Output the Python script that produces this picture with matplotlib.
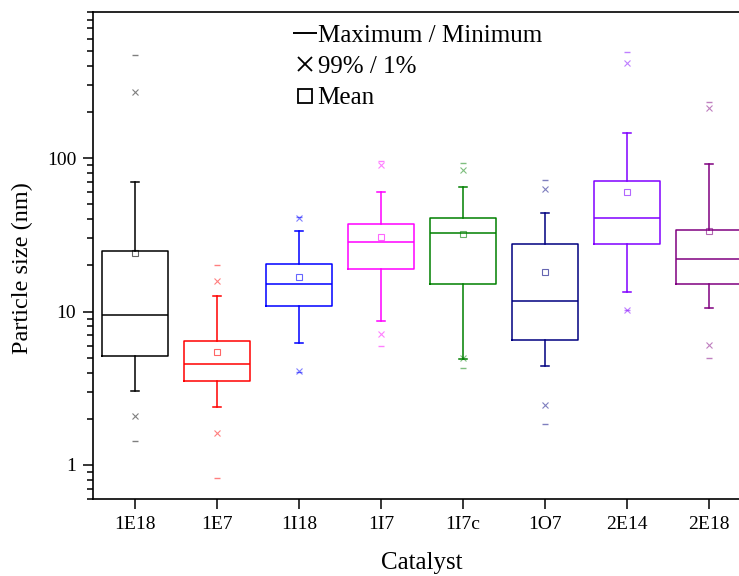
import numpy as np
import matplotlib
matplotlib.use("Agg")
import matplotlib.pyplot as plt
from matplotlib.lines import Line2D
from matplotlib.ticker import LogLocator, FixedLocator, FixedFormatter, NullFormatter

plt.rcParams['font.family'] = ['Liberation Serif', 'DejaVu Serif']

# particle size statistics (nm)
catalysts = ['1E18', '1E7', '1I18', '1I7', '1I7c', '1O7', '2E14', '2E18']
max_vals = [473, 20.1, 41.5, 96, 92.7, 71.8, 490, 232]
p99_vals = [270, 15.8, 40.9, 89.5, 83.5, 63, 415, 212]
whisk_hi = [70.3, 12.6, 33.6, 60.2, 65.2, 44.1, 146, 92.2]
q3_vals = [24.9, 6.43, 20.4, 37.4, 40.9, 27.4, 71.1, 34.2]
mean_vals = [23.9, 5.44, 16.8, 30.5, 32.0, 18.1, 60.2, 33.4]
median_vals = [9.46, 4.54, 15.2, 28.3, 32.3, 11.8, 40.5, 22.1]
q1_vals = [5.16, 3.54, 10.8, 18.8, 15.2, 6.52, 27.7, 15.1]
whisk_lo = [3.05, 2.38, 6.23, 8.73, 4.93, 4.39, 13.4, 10.5]
p1_vals = [2.08, 1.62, 4.07, 7.14, 4.97, 2.47, 10.3, 6.09]
min_vals = [1.44, 0.82, 4.05, 5.93, 4.3, 1.85, 10.2, 5.0]

colors = ['#000000', '#FF0000', '#0000FF', '#FF00FF', '#008000', '#000080', '#8000FF', '#800080']

fig = plt.figure(figsize=(7.39, 5.76), dpi=100)
ax = fig.add_axes([93 / 739, 77 / 576, 657 / 739, 487.3 / 576])

positions = np.arange(1, len(catalysts) + 1)

stats = []
for i, name in enumerate(catalysts):
    stats.append({
        'label': name,
        'med': median_vals[i],
        'q1': q1_vals[i],
        'q3': q3_vals[i],
        'whislo': whisk_lo[i],
        'whishi': whisk_hi[i],
        'mean': mean_vals[i],
        'fliers': [],
    })

bp = ax.bxp(stats, positions=positions, widths=0.8, capwidths=0.1,
            showmeans=False, showfliers=False)

for i, c in enumerate(colors):
    bp['boxes'][i].set(color=c, linewidth=1.1)
    bp['medians'][i].set(color=c, linewidth=1.1)
    for art in bp['whiskers'][2 * i:2 * i + 2] + bp['caps'][2 * i:2 * i + 2]:
        art.set(color=c, linewidth=1.1)

    x = positions[i]
    ax.plot([x, x], [max_vals[i], min_vals[i]], ls='none', marker='_',
            ms=5, mew=1.0, color=c, alpha=0.5)
    ax.plot([x, x], [p99_vals[i], p1_vals[i]], ls='none', marker='x',
            ms=5, mew=0.8, color=c, alpha=0.5)
    ax.plot([x], [mean_vals[i]], ls='none', marker='s', ms=4.5,
            mfc='none', mew=0.8, color=c, alpha=0.6)

ax.set_yscale('log')
ax.set_ylim(0.6, 900)
ax.set_xlim(0.49, 8.5)
ax.yaxis.set_major_locator(FixedLocator([1, 10, 100]))
ax.yaxis.set_major_formatter(FixedFormatter(['1', '10', '100']))
ax.yaxis.set_minor_locator(LogLocator(base=10, subs=np.arange(2, 10)))
ax.yaxis.set_minor_formatter(NullFormatter())

ax.set_xticks(positions)
ax.set_xticklabels(catalysts)

ax.tick_params(axis='both', which='major', direction='out', length=7,
               width=1.1, labelsize=14, top=False, right=False, pad=5)
ax.tick_params(axis='y', which='minor', direction='out', length=4, width=1.1)
for sp in ax.spines.values():
    sp.set_linewidth(1.2)

ax.set_xlabel('Catalyst', fontsize=18, labelpad=14)
ax.set_ylabel('Particle size (nm)', fontsize=17.5)
ax.yaxis.set_label_coords(-0.091, 0.474)

handles = [
    Line2D([], [], ls='none', marker='_', ms=17, mew=1.4, color='k'),
    Line2D([], [], ls='none', marker='x', ms=10, mew=1.3, color='k'),
    Line2D([], [], ls='none', marker='s', ms=10, mfc='none', mew=1.3, color='k'),
]
ax.legend(handles, ['Maximum / Minimum', '99% / 1%', 'Mean'],
          loc='upper left', bbox_to_anchor=(0.307, 0.974), frameon=False,
          fontsize=18, handlelength=0.8, handletextpad=0.12,
          labelspacing=0.35, borderpad=0, borderaxespad=0)

fig.savefig('out.png', dpi=100)
